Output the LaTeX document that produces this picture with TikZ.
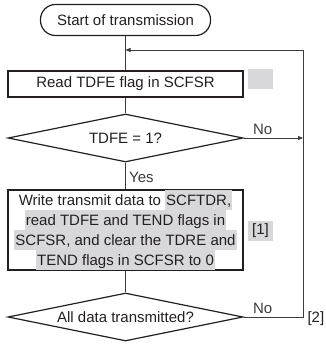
\documentclass[tikz,border=0pt]{standalone}
\usepackage{fontspec}
\setmainfont{Liberation Sans}
\usetikzlibrary{arrows.meta,positioning,shapes.geometric,calc}
\definecolor{InkGray}{RGB}{35,31,32}
\definecolor{LineGray}{RGB}{60,60,60}
\definecolor{MarkGray}{RGB}{216,216,218}
\newcommand{\hlbox}[1]{{\setlength{\fboxsep}{1pt}\colorbox{MarkGray}{\rule[-4pt]{0pt}{18pt}#1}}}
\tikzset{
  termbox/.style={draw=InkGray, line width=1.2pt, rounded corners=15pt, minimum width=170pt, minimum height=31pt},
  flowbox/.style={draw=InkGray, line width=1.8pt, minimum width=235pt, inner sep=0pt},
  decide/.style={diamond, draw=InkGray, line width=1.2pt, aspect=4.7, minimum width=235pt, minimum height=48pt, inner sep=0pt},
  tagbox/.style={fill=MarkGray, minimum width=25pt, minimum height=20pt, inner sep=0pt},
  conn/.style={LineGray, line width=0.8pt},
}

\begin{document}
\begin{tikzpicture}[x=1pt, y=-1pt, font=\fontsize{15}{20}\selectfont, text=InkGray]
        \useasboundingbox (0,0) rectangle (325,344);
        \node[termbox] (start) at (125.5,20) {Start of transmission};
        \node[flowbox, minimum height=26pt] (read) at (125.5,84) {Read TDFE flag in SCFSR};
        \node[tagbox] (blank) at (260.5,79) {};
        \node[decide] (tdfe) at (125.5,138) {TDFE = 1?};
        \node[flowbox, minimum height=80pt, align=center] (write) at (125.5,230)
          {Write transmit data to \hlbox{SCFTDR,}\\
           \hlbox{read TDFE and TEND flags in}\\
           \hlbox{SCFSR, and clear the TDRE and}\\
           \hlbox{TEND flags in SCFSR to 0}};
        \node[tagbox] (note1) at (260.5,230.5) {[1]};
        \node[decide] (done) at (125.5,317) {All data transmitted?};
        % loop back path
        \coordinate (turn) at (303,317);
        \coordinate (top) at (303,50);
        \coordinate (loopin) at (125.5,50);
        \draw[conn] (start) -- (read);
        \draw[conn] (read) -- (tdfe);
        \draw[conn] (tdfe) -- node[right, pos=0.55] {Yes} (write);
        \draw[conn] (write) -- (done);
        \draw[conn, -{Triangle[length=5pt,width=4pt]}] (tdfe.east) -- node[above, pos=0.32] {No} (tdfe.east -| turn);
        \draw[conn, -{Triangle[length=5pt,width=4pt]}] (done.east) -- node[above, pos=0.32] {No} (turn) -- (top) -- (loopin);
        \node[anchor=west] (note2) at ($(turn)+(1,2)$) {[2]};
      \end{tikzpicture}
\end{document}
